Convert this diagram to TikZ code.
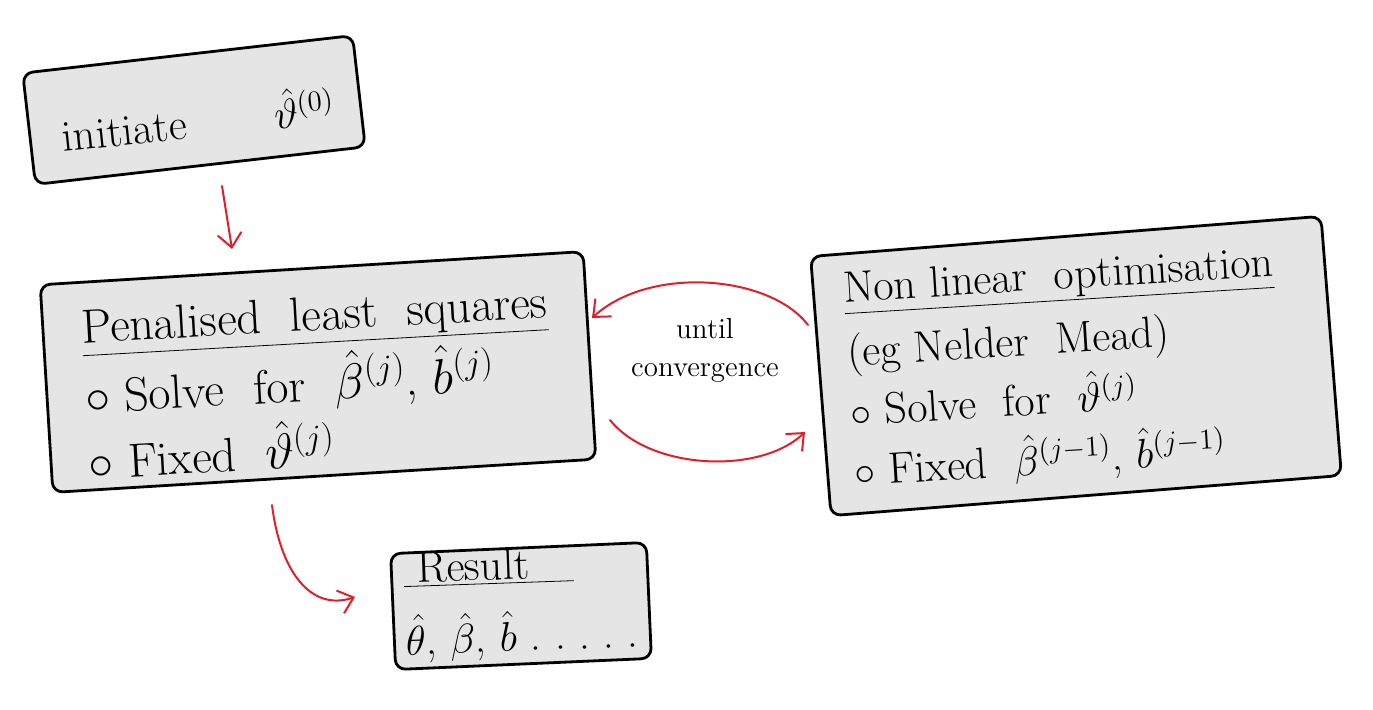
\documentclass[tikz,border=0pt]{standalone}
\usetikzlibrary{arrows.meta,calc}
\definecolor{handred}{RGB}{226,30,42}
\definecolor{boxgray}{RGB}{229,229,229}
\begin{document}
\begin{tikzpicture}[x=0.5pt,y=-0.5pt,
 sketchbox/.style={draw=black, line width=1.4pt, fill=boxgray, rounded corners=5pt, inner sep=0pt},
 boxtext/.style={align=left, inner sep=0pt, font=\fontsize{22}{30}\selectfont},
 bigtext/.style={align=left, inner sep=0pt, font=\fontsize{24}{33}\selectfont},
 smalltext/.style={align=center, inner sep=0pt, font=\fontsize{14.5}{19}\selectfont},
 flow/.style={draw=handred, line width=1pt, line cap=round, -{Straight Barb[length=7pt,width=12pt]}},
]
\useasboundingbox (0,0) rectangle (1373,709);

% boxes
\node[sketchbox, minimum width=166pt, minimum height=56pt, rotate=6.5] (init) at (194,110) {};
\node[sketchbox, minimum width=272pt, minimum height=104pt, rotate=3.5] (pls) at (318,372) {};
\node[sketchbox, minimum width=256pt, minimum height=130pt, rotate=4.5] (nlo) at (1076,366) {};
\node[sketchbox, minimum width=128pt, minimum height=58pt, rotate=2.5] (res) at (521,606) {};

% texts
\node[boxtext, rotate=6] (initt) at (198,118) {initiate\qquad$\hat\vartheta^{(0)}$};
\node[bigtext, rotate=3.2] (plst) at (318,382) {\underline{Penalised\ \ least\ \ squares}\\[2pt]
$\circ$ Solve\ \ for\ \ $\hat\beta^{(j)}$, $\hat b^{(j)}$\\
$\circ$ Fixed\ \ $\hat\vartheta^{(j)}$};
\node[boxtext, rotate=3.5] (nlot) at (1064,370) {\underline{Non linear\ \ optimisation}\\[2pt]
(eg Nelder\ \ Mead)\\
$\circ$ Solve\ \ for\ \ $\hat\vartheta^{(j)}$\\
$\circ$ Fixed\ \ $\hat\beta^{(j-1)}$, $\hat b^{(j-1)}$};
\node[boxtext, rotate=2] (rest) at (521,604) {\underline{\ Result\quad}\\[6pt]
$\hat\theta$, $\hat\beta$, $\hat b$\ .\ .\ .\ .\ .};
\node[smalltext] (conv) at (705,350) {until\\convergence};

% connectors
\draw[flow] ($(init)+(28,76)$) -- ($(pls)+(-86,-123)$);
\draw[flow] ($(nlo)+(-268,-41)$) .. controls (770,275) and (650,265) .. ($(pls)+(274,-54)$);
\draw[flow] ($(pls)+(292,48)$) .. controls (650,470) and (760,475) .. ($(nlo)+(-271,66)$);
\draw[flow] ($(pls)+(-46,133)$) .. controls (280,570) and (310,612) .. ($(res)+(-166,-9)$);
\end{tikzpicture}
\end{document}
